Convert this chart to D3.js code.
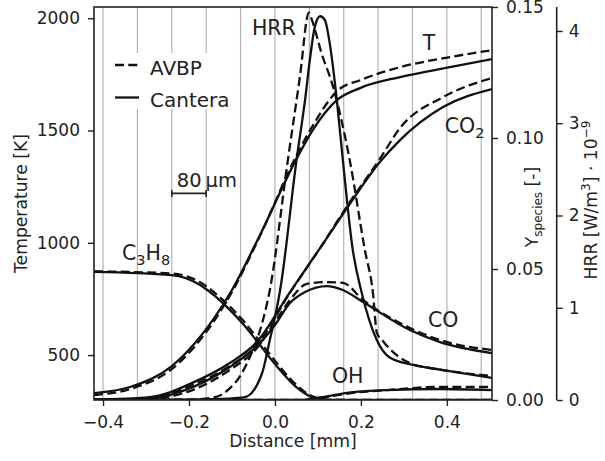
<!DOCTYPE html>
<html>
<head>
<meta charset="utf-8">
<script src="https://cdn.jsdelivr.net/npm/d3@7"></script>
<style>
  body { margin: 0; background: #fff; }
  text { font-family: "DejaVu Sans", sans-serif; fill: #222; }
</style>
</head>
<body>
<svg id="chart" width="605" height="461"></svg>
<script>
// ---- data (x in mm) ----
// temperature [K]
var tCantera = [[-0.421,331],[-0.337,358],[-0.240,451],[-0.186,554],[-0.100,790],[-0.035,1034],[0.051,1377],
  [0.088,1502],[0.144,1635],[0.198,1689],[0.291,1738],[0.407,1782],[0.505,1818]];
var tAvbp = [[-0.421,322],[-0.337,349],[-0.240,438],[-0.186,540],[-0.100,781],[-0.035,1030],[0.047,1377],
  [0.086,1515],[0.147,1680],[0.198,1724],[0.291,1782],[0.407,1827],[0.505,1858]];

// heat release rate [W/m3 * 1e-9]
var hrrCantera = [[-0.421,0],[-0.2,0.005],[-0.105,0.015],[-0.07,0.03],[-0.03,0.29],[-0.012,0.65],[0.005,1.01],
  [0.012,1.19],[0.051,2.63],[0.07,3.25],[0.081,3.68],[0.093,4.05],[0.105,4.16],[0.116,4.12],[0.128,3.85],
  [0.144,3.25],[0.158,2.6],[0.181,1.63],[0.202,1.16],[0.237,0.65],[0.267,0.46],[0.321,0.38],[0.384,0.33],[0.505,0.24]];
var hrrAvbp = [[-0.421,0],[-0.2,0.005],[-0.14,0.03],[-0.109,0.11],[-0.077,0.29],[-0.058,0.47],[-0.03,0.83],
  [-0.012,1.19],[0.030,2.6],[0.058,3.5],[0.079,4.2],[0.086,4.12],[0.109,3.75],[0.135,3.4],[0.174,2.6],
  [0.209,1.63],[0.228,1.16],[0.237,0.73],[0.251,0.64],[0.314,0.40],[0.384,0.33],[0.505,0.26]];

// species mass fractions [-]
var co2Cantera = [[-0.421,0.00015],[-0.291,0.0011],[-0.186,0.0070],[-0.105,0.0141],[-0.042,0.0221],[0.035,0.0412],
  [0.105,0.058],[0.174,0.0748],[0.244,0.0908],[0.291,0.0992],[0.391,0.1118],[0.505,0.1187]];
var co2Avbp = [[-0.421,0.0001],[-0.291,0.0007],[-0.186,0.0061],[-0.105,0.013],[-0.042,0.021],[0.035,0.041],
  [0.105,0.058],[0.174,0.0755],[0.244,0.092],[0.291,0.1038],[0.391,0.1156],[0.505,0.1229]];
var coCantera = [[-0.421,0.0001],[-0.291,0.0006],[-0.186,0.0053],[-0.105,0.0126],[-0.042,0.0206],[0,0.0286],
  [0.035,0.037],[0.070,0.0412],[0.121,0.0435],[0.158,0.042],[0.205,0.0374],[0.314,0.0267],[0.384,0.0221],[0.505,0.0179]];
var coAvbp = [[-0.421,0.00005],[-0.291,0.0004],[-0.186,0.0042],[-0.105,0.0115],[-0.042,0.0198],[0,0.0298],
  [0.035,0.0382],[0.074,0.0443],[0.116,0.045],[0.158,0.0447],[0.205,0.0382],[0.314,0.0275],[0.384,0.0229],[0.505,0.0191]];
var c3h8Cantera = [[-0.421,0.0489],[-0.240,0.0477],[-0.174,0.0439],[-0.140,0.0397],[-0.105,0.0344],[-0.074,0.029],
  [-0.042,0.0225],[0,0.0137],[0.047,0.0053],[0.086,0.0011],[0.128,0],[0.505,0]];
var c3h8Avbp = [[-0.421,0.0491],[-0.240,0.0483],[-0.174,0.0449],[-0.140,0.0409],[-0.105,0.0357],[-0.074,0.0303],
  [-0.042,0.0238],[0,0.015],[0.047,0.0062],[0.086,0.0015],[0.128,0.0001],[0.505,0]];
var ohCantera = [[-0.421,0],[0.058,0],[0.105,0.001],[0.181,0.003],[0.260,0.0038],[0.384,0.0042],[0.505,0.0038]];
var ohAvbp = [[-0.421,0],[0.058,0],[0.105,0.0008],[0.181,0.0027],[0.260,0.0038],[0.384,0.005],[0.505,0.005]];

// ticks
var xTicks = [-0.4, -0.2, 0, 0.2, 0.4];
var tTicks = [500, 1000, 1500, 2000];
var yTicks = [0, 0.05, 0.10, 0.15];
var hTicks = [0, 1, 2, 3, 4];
var gridTicks = d3.range(-0.4, 0.5, 0.08);

var svg = d3.select("#chart");
var L = 94, R = 492, T = 7, B = 400;

var x = d3.scaleLinear().domain([-0.421, 0.505]).range([L, R]);
var yT = d3.scaleLinear().domain([300, 2050]).range([B, T]);
var yS = d3.scaleLinear().domain([0, 0.15]).range([B, T]);
var yH = d3.scaleLinear().domain([0, 4.26]).range([B, T]);

svg.append("rect").attr("width", 605).attr("height", 461).attr("fill", "#fff");

svg.append("clipPath").attr("id", "clip")
  .append("rect").attr("x", L).attr("y", T).attr("width", R - L).attr("height", B - T);

// vertical grid every 80 um
svg.append("g").selectAll("line").data(gridTicks).enter().append("line")
  .attr("x1", function(d){ return x(d); }).attr("x2", function(d){ return x(d); })
  .attr("y1", T).attr("y2", B)
  .attr("stroke", "#b3b3b3").attr("stroke-width", 1.2);

// curves
var plot = svg.append("g").attr("clip-path", "url(#clip)");
function drawSeries(data, yScale, dashed) {
  var line = d3.line()
    .x(function(d){ return x(d[0]); })
    .y(function(d){ return yScale(d[1]); })
    .curve(d3.curveMonotoneX);
  plot.append("path").datum(data)
    .attr("d", line)
    .attr("fill", "none")
    .attr("stroke", "#111")
    .attr("stroke-width", 2.3)
    .attr("stroke-dasharray", dashed ? "9,4.3" : null);
}
drawSeries(ohCantera, yS, false);   drawSeries(ohAvbp, yS, true);
drawSeries(c3h8Cantera, yS, false); drawSeries(c3h8Avbp, yS, true);
drawSeries(coCantera, yS, false);   drawSeries(coAvbp, yS, true);
drawSeries(co2Cantera, yS, false);  drawSeries(co2Avbp, yS, true);
drawSeries(hrrCantera, yH, false);  drawSeries(hrrAvbp, yH, true);
drawSeries(tCantera, yT, false);    drawSeries(tAvbp, yT, true);

// axes
function styleAxis(g) {
  g.select(".domain").remove();
  g.selectAll(".tick line").attr("stroke", "#222").attr("stroke-width", 1.4);
  g.selectAll(".tick text").style("font-size", "17px").attr("fill", "#222");
}
svg.append("g").attr("transform", "translate(0," + B + ")")
  .call(d3.axisBottom(x).tickValues(xTicks).tickFormat(d3.format(".1f")).tickSize(6).tickPadding(9.5))
  .call(styleAxis);
svg.append("g").attr("transform", "translate(" + L + ",0)")
  .call(d3.axisLeft(yT).tickValues(tTicks).tickFormat(d3.format("d")).tickSize(6).tickPadding(8))
  .call(styleAxis);
svg.append("g").attr("transform", "translate(" + R + ",0)")
  .call(d3.axisRight(yS).tickValues(yTicks).tickFormat(d3.format(".2f")).tickSize(6).tickPadding(8))
  .call(styleAxis);
var hAxisX = 556.7;
svg.append("g").attr("transform", "translate(" + hAxisX + ",0)")
  .call(d3.axisRight(yH).tickValues(hTicks).tickFormat(d3.format("d")).tickSize(6).tickPadding(6))
  .call(styleAxis);

// spines
svg.append("rect").attr("x", L).attr("y", T).attr("width", R - L).attr("height", B - T)
  .attr("fill", "none").attr("stroke", "#222").attr("stroke-width", 1.6);
svg.append("line").attr("x1", hAxisX).attr("x2", hAxisX).attr("y1", T).attr("y2", B)
  .attr("stroke", "#222").attr("stroke-width", 1.6);

// axis labels
svg.append("text").attr("x", (L + R) / 2).attr("y", 447)
  .attr("text-anchor", "middle").style("font-size", "17.2px").text("Distance [mm]");
svg.append("text").attr("transform", "translate(27," + (T + B) / 2 + ") rotate(-90)")
  .attr("text-anchor", "middle").style("font-size", "17.2px").text("Temperature [K]");
var ylab = svg.append("text").attr("transform", "translate(538,207) rotate(-90)")
  .attr("text-anchor", "middle").style("font-size", "17.2px");
ylab.append("tspan").text("Y");
ylab.append("tspan").attr("dy", 4).style("font-size", "12px").text("species");
ylab.append("tspan").attr("dy", -4).text(" [-]");
var hlab = svg.append("text").attr("transform", "translate(597,200) rotate(-90)")
  .attr("text-anchor", "middle").style("font-size", "17.2px");
hlab.append("tspan").text("HRR [W/m");
hlab.append("tspan").attr("dy", -7).style("font-size", "12px").text("3");
hlab.append("tspan").attr("dy", 7).text("] \u00b7 10");
hlab.append("tspan").attr("dy", -7).style("font-size", "12px").text("\u22129");

// curve annotations (data coords: x in mm, y in K on the left axis)
function note(xv, tv, parts) {
  var t = svg.append("text").attr("x", x(xv)).attr("y", yT(tv)).style("font-size", "20.5px");
  parts.forEach(function(p) {
    if (p[1]) {
      t.append("tspan").attr("dy", 5).style("font-size", "14.5px").text(p[0]);
    } else {
      t.append("tspan").attr("dy", p[2] || 0).text(p[0]);
    }
  });
}
note(-0.0535, 1925, [["HRR"]]);
note(0.344, 1858, [["T"]]);
note(0.395, 1488, [["CO"], ["2", true]]);
note(-0.356, 923, [["C"], ["3", true], ["H", false, -5], ["8", true]]);
note(0.356, 625, [["CO"]]);
note(0.1326, 376, [["OH"]]);

// scale bar 80 um
var barY = yT(1220);
var bar = svg.append("g").attr("stroke", "#222").attr("stroke-width", 1.6);
bar.append("line").attr("x1", x(-0.24)).attr("x2", x(-0.16)).attr("y1", barY).attr("y2", barY);
bar.append("line").attr("x1", x(-0.24)).attr("x2", x(-0.24)).attr("y1", barY - 3.5).attr("y2", barY + 3.5);
bar.append("line").attr("x1", x(-0.16)).attr("x2", x(-0.16)).attr("y1", barY - 3.5).attr("y2", barY + 3.5);
svg.append("text").attr("x", x(-0.24) + 5).attr("y", barY - 6).style("font-size", "19.5px").text("80\u2009\u03bcm");

// legend
var leg = svg.append("g");
leg.append("rect").attr("x", 107).attr("y", 53).attr("width", 132).attr("height", 56).attr("fill", "#fff");
var legItems = [["AVBP", true], ["Cantera", false]];
legItems.forEach(function(d, i) {
  var yy = 65 + i * 32.5;
  leg.append("line").attr("x1", 115).attr("x2", 139).attr("y1", yy).attr("y2", yy)
    .attr("stroke", "#111").attr("stroke-width", 2.3)
    .attr("stroke-dasharray", d[1] ? "9,4.3" : null);
  leg.append("text").attr("x", 150).attr("y", yy + 9.5).style("font-size", "20px").text(d[0]);
});
</script>
</body>
</html>
